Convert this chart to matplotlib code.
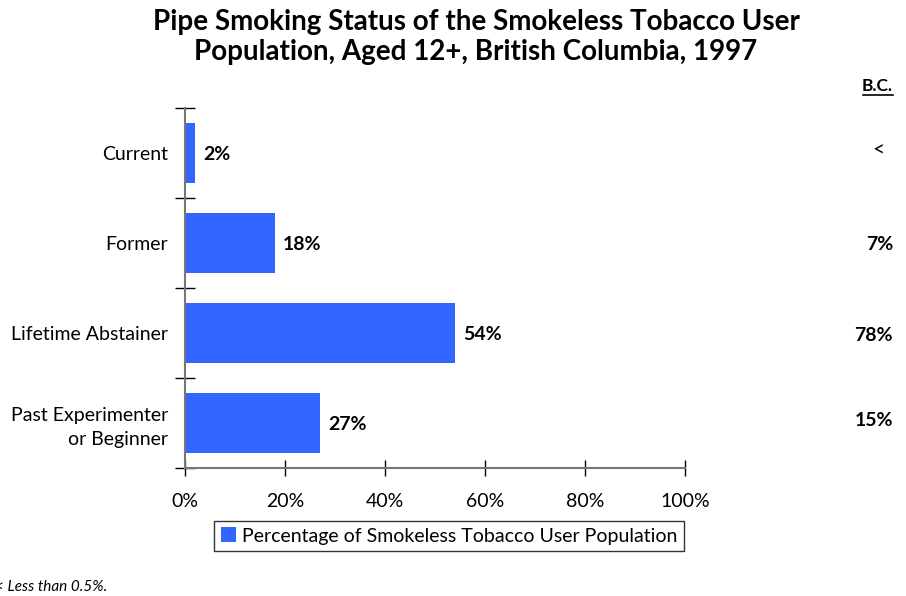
import matplotlib.pyplot as plt
from matplotlib.lines import Line2D
import numpy as np

# Data
categories = ['Current', 'Former', 'Lifetime Abstainer', 'Past Experimenter\nor Beginner']
values = [2, 18, 54, 27]
bc_labels = ['<', '7%', '78%', '15%']
x_ticks = [0, 20, 40, 60, 80, 100]

plt.rcParams['font.family'] = ['Lato', 'DejaVu Sans']

fig = plt.figure(figsize=(9.06, 5.96), dpi=100)
ax = fig.add_axes([185 / 906, 1 - 468 / 596, 500 / 906, 360 / 596])

bar_color = '#3366FF'
y = np.arange(len(categories))
ax.barh(y, values, height=0.66, color=bar_color, label='Percentage of Smokeless Tobacco User Population')
ax.set_ylim(len(categories) - 0.5, -0.5)
ax.set_xlim(0, 100)

# value labels next to bars
for yi, v in zip(y, values):
    ax.text(v + 1.6, yi + 0.02, f'{v}%', va='center', ha='left', fontsize=14, fontweight='bold')

# x axis
ax.set_xticks(x_ticks)
ax.set_xticklabels([f'{t}%' for t in x_ticks], fontsize=14)
ax.tick_params(axis='x', direction='inout', length=12, width=1, color='black', pad=12)

# y axis: ticks at category boundaries
ax.set_yticks(np.arange(-0.5, len(categories), 1))
ax.set_yticklabels([])
ax.set_yticks(y, minor=True)
ax.set_yticklabels(categories, minor=True, fontsize=14, ha='right', linespacing=1.5)
ax.tick_params(axis='y', which='minor', length=0, pad=12)
ax.tick_params(axis='y', which='major', direction='inout', length=14, width=1, color='black')

for side in ['top', 'right']:
    ax.spines[side].set_visible(False)
ax.spines['left'].set_color('#777777')
ax.spines['bottom'].set_color('#777777')
ax.spines['left'].set_linewidth(1.5)
ax.spines['bottom'].set_linewidth(1.5)
ax.set_facecolor('none')

# title
fig.text(476 / 906, 1 - 37 / 596,
         'Pipe Smoking Status of the Smokeless Tobacco User\nPopulation, Aged 12+, British Columbia, 1997',
         ha='center', va='center', fontsize=20, fontweight='bold', linespacing=1.15)

# B.C. column
fig.text(893 / 906, 1 - 86 / 596, 'B.C.', ha='right', va='center', fontsize=12.5, fontweight='bold')
fig.add_artist(Line2D([863 / 906, 893 / 906], [1 - 95 / 596, 1 - 95 / 596],
                      color='black', linewidth=1.2, transform=fig.transFigure))
for yi, lab in zip(y, bc_labels):
    ypix = 153 + 90 * yi - (5 if yi == 3 else 0)
    if lab == '<':
        fig.text(878 / 906, 1 - (ypix - 3) / 596, lab, ha='center', va='center', fontsize=15)
    else:
        fig.text(893 / 906, 1 - (ypix + 2) / 596, lab, ha='right', va='center', fontsize=14, fontweight='bold')

# legend
leg = fig.legend(loc='center', bbox_to_anchor=(449 / 906, 1 - 536 / 596), fontsize=14,
                 frameon=True, fancybox=False, edgecolor='black', handlelength=0.8,
                 handleheight=0.8, handletextpad=0.3, borderpad=0.35)
leg.get_frame().set_linewidth(1.0)

# footnote
fig.text(-0.006, 1 - 587 / 596, '< Less than 0.5%.', ha='left', va='center', fontsize=11, style='italic')

fig.savefig('out.png', dpi=100)
